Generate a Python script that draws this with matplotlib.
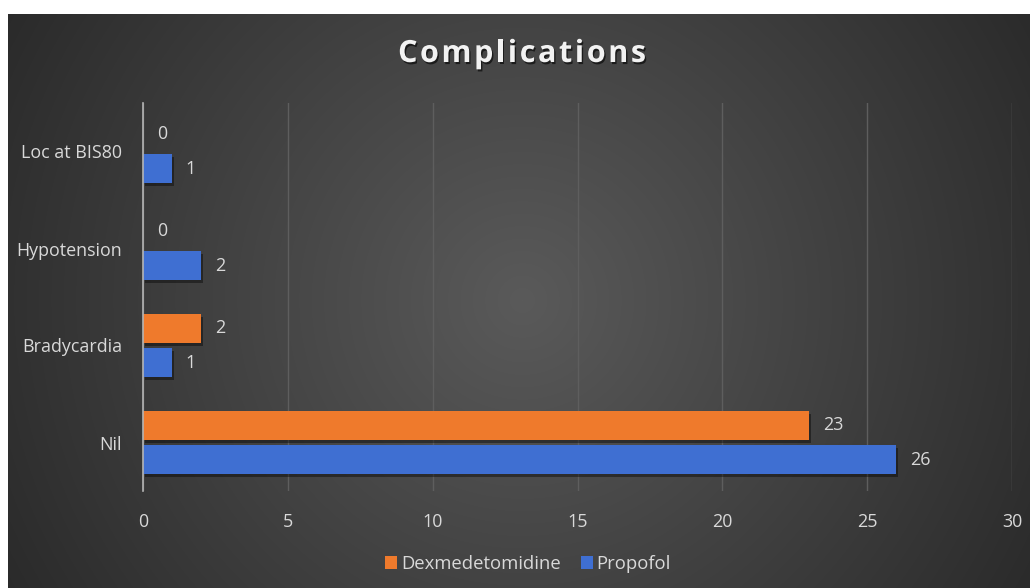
import numpy as np
import matplotlib
matplotlib.use("Agg")
import matplotlib.pyplot as plt
from matplotlib.patches import Patch
from matplotlib.font_manager import FontProperties
import matplotlib.patheffects as pe

plt.rcParams['font.family'] = ['Open Sans', 'DejaVu Sans']

# Data
categories = ['Nil', 'Bradycardia', 'Hypotension', 'Loc at BIS80']
propofol = [26, 1, 2, 1]
dexmedetomidine = [23, 2, 0, 0]
series_names = ['Dexmedetomidine', 'Propofol']
xticks = [0, 5, 10, 15, 20, 25, 30]
title = 'Complications'

ORANGE = '#ef7a2c'
BLUE = '#3f6fd2'
TEXT = '#d9d9d9'

W, H = 1030, 588
fig = plt.figure(figsize=(W / 100, H / 100), dpi=100)
fig.patch.set_facecolor('white')

# Dark radial-gradient backdrop
bg = fig.add_axes([8 / W, 0, 1 - 8 / W, 1 - 14 / H], zorder=-10)
bw, bh = W - 8, H - 14
xx, yy = np.meshgrid(np.arange(bw), np.arange(bh))
cx, cy = 522 - 8, 300 - 14
d = np.hypot(xx - cx, yy - cy)
v = 90 - 48 * np.clip(d / 595, 0, 1)
img = np.dstack([v, v, v]) / 255.0
bg.imshow(img, aspect='auto', interpolation='bilinear')
bg.set_axis_off()

# Plot area
left, right, top, bottom = 143, 1012, 103, 491
ax = fig.add_axes([left / W, 1 - bottom / H, (right - left) / W, (bottom - top) / H])
ax.patch.set_alpha(0)

y = np.arange(len(categories))
off, hgt = 0.177, 0.3
shadow = [pe.withSimplePatchShadow(offset=(1.5, -2), shadow_rgbFace='black', alpha=0.4)]
b_prop = ax.barh(y - off, propofol, height=hgt, color=BLUE, zorder=3)
b_dex = ax.barh(y + off, dexmedetomidine, height=hgt, color=ORANGE, zorder=3)
for b in list(b_prop) + list(b_dex):
    b.set_path_effects(shadow)

for vals, pos in ((propofol, y - off), (dexmedetomidine, y + off)):
    for val, yp in zip(vals, pos):
        ax.annotate(str(val), (val, yp), xytext=(10, 0), textcoords='offset points',
                    va='center', ha='left', color=TEXT, fontsize=12.9)

ax.set_xlim(0, 30)
ax.set_ylim(-0.5, len(categories) - 0.5)
ax.set_xticks(xticks)
ax.set_xticklabels([str(t) for t in xticks])
ax.set_yticks(y)
ax.set_yticklabels(categories)
ax.tick_params(axis='x', length=0, pad=16, labelsize=12.9, labelcolor=TEXT)
ax.tick_params(axis='y', length=0, pad=15, labelsize=12.9, labelcolor=TEXT)
ax.xaxis.grid(True, color='#5e5e5e', linewidth=1, zorder=0)
ax.yaxis.grid(False)
for s in ('top', 'right', 'bottom'):
    ax.spines[s].set_visible(False)
ax.spines['left'].set_color('#b5b5b5')
ax.spines['left'].set_linewidth(1.2)
ax.spines['left'].set_zorder(4)

# Title, drawn letter by letter with extra tracking
renderer = fig.canvas.get_renderer()
tprop = FontProperties(family=['Open Sans', 'DejaVu Sans'], weight='bold', size=22)
tracking = 2.6  # px between letters
widths = [renderer.get_text_width_height_descent(ch, tprop, ismath=False)[0] for ch in title]
total = sum(widths) + tracking * (len(title) - 1)
x0 = 522 - total / 2
ty = H - 54
for ch, w in zip(title, widths):
    fig.text(x0 / W, ty / H, ch, ha='left', va='center', fontproperties=tprop,
             color='#f2f2f2',
             path_effects=[pe.withSimplePatchShadow(offset=(1, -1.5), shadow_rgbFace='black', alpha=0.6)])
    x0 += w + tracking

# Legend
handles = [Patch(facecolor=ORANGE), Patch(facecolor=BLUE)]
leg = fig.legend(handles, series_names, loc='center', bbox_to_anchor=(528 / W, 1 - 564 / H),
                 ncol=2, frameon=False, fontsize=13.3, handlelength=0.65, handleheight=0.65,
                 handletextpad=0.2, columnspacing=1.1)
for t in leg.get_texts():
    t.set_color(TEXT)

fig.savefig('out.png', dpi=100)
